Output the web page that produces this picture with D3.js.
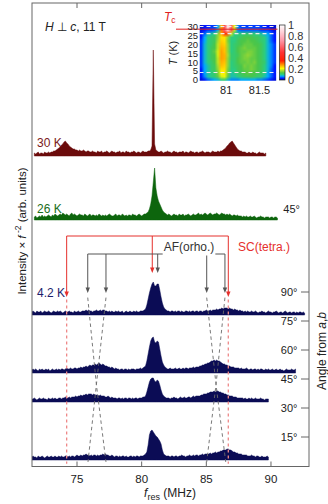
<!DOCTYPE html>
<html><head><meta charset="utf-8">
<script src="https://cdn.jsdelivr.net/npm/d3@7"></script>
<style>
html,body{margin:0;padding:0;background:#fff;}
svg{display:block;font-family:"Liberation Sans",Arial,sans-serif;}
</style></head><body>
<svg id="chart" width="328" height="504"></svg>
<script>
// ---- NMR spectra (intensity x f^-2, arb. units), sampled every 0.1 MHz ----
const freqStep = 0.1;
const start30K = 71.7;
const int30K = [3,2,3,4,2,3,3,2,4,3,3,4,3,4,
4,5,5,6,7,
8,9,11,12,14,15,
13,12,10,9,8,7,7,
6,6,5,6,5,5,6,5,4,5,5,4,
4,5,4,4,3,5,4,4,5,3,4,4,5,4,3,4,5,4,4,3,4,4,5,3,4,4,3,5,4,4,3,4,4,5,4,3,4,4,3,4,5,4,4,4,5,
5,6,10,106,12,6,5,
4,4,5,4,3,4,4,5,4,4,3,4,5,4,4,3,4,4,4,5,3,4,4,3,4,5,4,4,3,4,4,3,4,4,5,4,3,4,4,4,3,4,5,4,4,4,5,4,
5,5,6,7,8,10,11,13,14,15,13,11,9,7,6,5,5,4,4,
4,3,3,4,3,3,4,3,3,2,3,4,3,3,3,2,3];

const start26K = 71.7;
const int26K = [3,4,2,3,4,3,5,3,4,3,4,5,4,3,
5,4,6,5,4,5,6,5,7,6,5,6,5,4,6,7,5,6,5,4,5,6,5,5,4,6,5,4,5,6,4,5,5,4,5,4,6,5,4,5,
4,5,4,5,6,5,4,4,5,6,4,5,5,4,6,5,4,5,4,5,5,4,6,5,5,4,5,6,5,4,5,6,6,7,
8,11,16,24,38,52,32,24,19,16,13,10,8,7,
6,5,6,5,4,5,6,5,5,4,6,5,5,6,4,5,5,6,5,4,5,6,5,5,6,7,5,6,5,6,7,6,5,6,7,6,5,6,6,7,6,5,6,7,6,6,5,6,5,6,5,4,5,5,4,5,4,4,
4,3,4,3,4,3,3,4,3,3,4,3,2,3,3,4,3,3,2,3,3,3,2,3,3,2,3,3,2];

const start4K = 71.5;
const int4K_90 = [3,4,3,2,4,3,3,4,2,3,4,3,3,4,3,2,3,4,3,3,4,3,4,3,2,3,4,3,3,4,3,3,2,4,3,3,4,3,3,4,4,
4,5,4,5,4,4,3,4,4,5,4,4,5,4,5,5,4,4,3,4,
3,4,3,3,4,3,4,3,3,4,2,3,4,3,3,4,3,3,4,3,4,3,3,4,4,4,5,
6,10,16,22,27,31,33,29,29,31,31,25,18,12,8,6,5,
4,4,3,4,4,3,4,3,4,4,3,4,3,3,4,4,3,4,3,4,4,3,4,4,3,4,4,3,4,4,5,4,4,5,4,
5,5,5,6,5,6,6,7,6,7,7,7,6,7,6,6,5,6,5,5,4,5,
4,4,3,4,3,4,3,3,4,3,3,4,3,2,3,3,4,3,3,2,3,4,3,3,2,3,3,4,3,2,3,3,2,3,4,3,2,3,3,2,3,3,2,3,2,3,3,2,3,2];

const int4K_60 = [3,4,3,4,3,2,4,3,4,3,3,4,3,4,2,3,4,3,3,4,3,4,3,4,4,3,4,5,4,4,5,4,4,5,5,4,
5,5,6,5,6,6,7,6,7,8,7,8,8,9,8,9,10,9,8,9,8,7,7,6,6,5,6,5,4,5,
4,4,3,4,4,3,4,4,3,4,3,4,4,4,3,4,4,4,5,4,5,6,
7,12,19,26,32,35,36,31,30,32,31,24,17,11,8,6,5,
4,4,5,4,4,4,5,4,4,5,4,4,5,4,5,5,4,5,5,5,6,5,6,
6,6,7,7,8,8,9,9,10,10,11,12,12,13,12,13,12,12,11,10,9,9,8,8,7,7,6,6,6,5,5,5,5,4,5,
4,4,4,5,4,3,4,4,3,4,4,3,4,3,4,4,3,3,4,3,4,3,3,4,3,3,4,3,3,4,3,3,2,3,4,3,3,3,4,3,3,4];

const int4K_45 = [3,3,4,3,2,3,4,3,3,4,3,3,2,4,3,3,4,3,4,3,3,4,4,3,4,4,5,4,4,5,4,5,5,5,6,5,
6,6,7,6,7,7,8,7,8,8,8,7,8,7,7,7,6,7,6,6,6,5,5,6,5,4,5,4,4,
4,3,4,4,3,4,3,4,4,3,4,4,3,4,3,4,4,3,4,4,4,5,5,
6,10,15,20,23,24,24,21,20,22,21,17,12,8,6,5,4,
4,4,3,4,4,5,4,4,3,4,5,4,4,5,4,4,5,5,4,5,6,5,6,6,
6,6,7,7,8,8,8,9,9,10,10,10,11,10,11,11,10,10,9,9,8,8,7,7,6,6,6,5,5,5,4,4,4,
4,4,3,4,3,3,4,3,4,3,3,4,3,3,3,4,3,3,2,3,3,3];

const int4K_15 = [3,4,3,3,2,4,3,3,4,3,2,3,4,3,3,4,3,3,4,3,3,4,3,4,3,3,4,4,3,4,3,4,4,3,4,5,4,4,5,
4,5,5,6,5,5,4,5,4,5,5,4,5,4,5,5,6,5,6,5,5,4,4,5,
4,3,4,4,3,4,3,4,4,3,4,3,3,4,4,3,4,3,4,4,3,4,4,4,5,6,
8,15,25,29,30,28,26,24,23,21,19,16,10,6,5,4,
4,4,3,4,4,3,4,4,3,4,4,5,4,4,3,4,4,5,4,4,5,4,5,5,4,5,5,6,5,6,
6,6,6,7,6,7,7,8,7,8,8,9,9,10,10,10,11,11,10,10,9,8,8,7,7,6,6,6,5,5,5,
5,4,4,4,5,4,4,3,4,4,3,3,4,3,3,3,4,3];

// angles (deg from a,b) of the 4.2 K spectra
const angles4K = [90, 60, 45, 15];
const angleTicks = [15, 30, 45, 60, 75, 90];
const freqTicks = [75, 80, 85, 90];

// line positions (MHz): SC (tetragonal) and AF (orthorhombic) lines
const scLines = [74.2, 80.82, 86.7];
const afLines = [75.83, 77.24, 81.24, 85.03, 86.44];
// angle dependence of the split AF lines, [MHz, angle level]
const afGuides = [
  [[75.83, 99], [76.5, 54], [77.24, 14]],
  [[77.24, 99], [76.5, 54], [75.85, 14]],
  [[85.03, 99], [85.75, 54], [86.5, 14]],
  [[86.44, 99], [85.75, 54], [85.03, 14]]
];
const scGuides = [74.2, 86.7];

// ---- inset: central-line intensity map vs temperature ----
const mapFreqEdges = [80.6, 81.75];        // 23 columns, 0.05 MHz each
const mapTemps = [30,28,26,24,22,20,18,16,14,12,10,8,6,4,2,0];
const mapValues = [
 [0.02,0.03,0.03,0.04,0.04,0.07,0.25,0.55,0.95,0.60,0.20,0.06,0.04,0.04,0.04,0.04,0.04,0.04,0.04,0.03,0.03,0.02,0.02],
 [0.02,0.03,0.04,0.04,0.05,0.08,0.30,0.60,0.88,0.55,0.18,0.06,0.05,0.05,0.05,0.05,0.05,0.05,0.04,0.04,0.04,0.03,0.02],
 [0.03,0.05,0.08,0.09,0.10,0.16,0.26,0.34,0.33,0.19,0.10,0.10,0.10,0.11,0.11,0.11,0.10,0.10,0.09,0.08,0.07,0.05,0.03],
 [0.03,0.07,0.10,0.11,0.12,0.16,0.23,0.23,0.16,0.10,0.10,0.11,0.12,0.13,0.13,0.13,0.12,0.12,0.11,0.10,0.08,0.05,0.03],
 [0.04,0.07,0.10,0.11,0.12,0.17,0.24,0.23,0.15,0.10,0.10,0.12,0.13,0.13,0.14,0.13,0.13,0.12,0.11,0.10,0.08,0.05,0.03],
 [0.04,0.08,0.10,0.11,0.13,0.18,0.25,0.24,0.16,0.10,0.11,0.12,0.13,0.14,0.14,0.14,0.13,0.13,0.12,0.10,0.08,0.06,0.04],
 [0.04,0.08,0.10,0.12,0.13,0.18,0.26,0.25,0.16,0.10,0.11,0.13,0.14,0.15,0.14,0.14,0.14,0.13,0.12,0.10,0.08,0.06,0.04],
 [0.04,0.08,0.10,0.12,0.14,0.19,0.27,0.25,0.16,0.10,0.11,0.13,0.14,0.14,0.15,0.15,0.14,0.13,0.12,0.10,0.08,0.06,0.04],
 [0.04,0.08,0.10,0.12,0.13,0.19,0.27,0.26,0.17,0.11,0.11,0.12,0.14,0.15,0.16,0.15,0.14,0.13,0.12,0.10,0.08,0.06,0.04],
 [0.04,0.08,0.10,0.12,0.13,0.18,0.27,0.26,0.16,0.11,0.11,0.13,0.14,0.15,0.15,0.14,0.14,0.13,0.12,0.10,0.08,0.06,0.04],
 [0.04,0.08,0.10,0.11,0.13,0.18,0.26,0.25,0.16,0.10,0.11,0.13,0.14,0.14,0.15,0.14,0.15,0.13,0.12,0.11,0.08,0.06,0.04],
 [0.04,0.07,0.09,0.11,0.12,0.17,0.25,0.24,0.16,0.10,0.11,0.12,0.13,0.15,0.14,0.15,0.14,0.13,0.12,0.10,0.08,0.06,0.03],
 [0.03,0.07,0.09,0.11,0.12,0.16,0.23,0.23,0.15,0.10,0.10,0.12,0.13,0.14,0.14,0.15,0.14,0.13,0.12,0.10,0.08,0.05,0.03],
 [0.03,0.07,0.09,0.10,0.11,0.15,0.21,0.22,0.15,0.09,0.10,0.11,0.12,0.13,0.14,0.13,0.13,0.12,0.11,0.10,0.07,0.05,0.03],
 [0.03,0.06,0.09,0.10,0.11,0.14,0.19,0.20,0.14,0.09,0.09,0.10,0.11,0.12,0.12,0.13,0.12,0.11,0.11,0.09,0.07,0.05,0.03],
 [0.02,0.03,0.05,0.06,0.07,0.08,0.10,0.11,0.08,0.06,0.06,0.06,0.07,0.07,0.07,0.07,0.07,0.06,0.06,0.05,0.04,0.03,0.02]
];
const mapMarkTemps = [30, 26, 4.2];
const tcTemp = 28.5;
const tempTicks = [0, 5, 10, 15, 20, 25, 30];
const mapFreqTicks = [81, 81.5];
const colorTicks = [0, 0.2, 0.4, 0.6, 0.8, 1];

// ---- layout & styles ----
const frame = {left: 32, right: 309, top: 3, bottom: 466.5};
const baseOffset4K = 23;           // px between angle tick and spectrum baseline
const base30K = 156, base26K = 220;
const inset = {left: 199.5, right: 277.5, top: 25, bottom: 80.7, cbLeft: 279.5, cbRight: 285};
const colRed = '#6b0b0b', colGreen = '#0d650d', colNavy = '#0b0c55';
const annRed = '#e5302c', annGray = '#555';
const colorStops = [0, 0.03, 0.07, 0.10, 0.13, 0.17, 0.21, 0.27, 0.35, 0.5, 0.72, 1];
const colorRange = ['#000088','#0018ff','#00aaff','#2ccc80','#4ac64a','#a8dc30','#ffff00','#ffa000','#ff2000','#ff3333','#ff98a8','#ffffff'];

const svg = d3.select('#chart');
const defs = svg.append('defs');

const x = d3.scaleLinear().domain([71.52, 92.94]).range([frame.left, frame.right]);
const yAngle = d3.scaleLinear().domain([0, 90]).range([466, 292]);
const baseOf = a => yAngle(a) + baseOffset4K;

defs.append('clipPath').attr('id', 'plotClip').append('rect')
  .attr('x', frame.left).attr('y', frame.top)
  .attr('width', frame.right - frame.left).attr('height', frame.bottom - frame.top);

const plot = svg.append('g').attr('clip-path', 'url(#plotClip)');

const spectra = [
  {start: start30K, values: int30K, color: colRed, base: base30K},
  {start: start26K, values: int26K, color: colGreen, base: base26K},
  {start: start4K, values: int4K_90, color: colNavy, base: baseOf(angles4K[0])},
  {start: start4K, values: int4K_60, color: colNavy, base: baseOf(angles4K[1])},
  {start: start4K, values: int4K_45, color: colNavy, base: baseOf(angles4K[2])},
  {start: start4K, values: int4K_15, color: colNavy, base: baseOf(angles4K[3])}
];

spectra.forEach(s => {
  const pts = s.values.map((v, i) => ({f: s.start + i * freqStep, v}));
  const yv = d3.scaleLinear().domain([0, 100]).range([s.base, s.base - 100]);
  plot.append('path').datum(pts)
    .attr('d', d3.area().x(d => x(d.f)).y0(s.base).y1(d => yv(d.v)))
    .attr('fill', s.color).attr('stroke', s.color).attr('stroke-width', 0.5)
    .attr('stroke-linejoin', 'round');
});

// ---- line assignments ----
const ann = svg.append('g');
const arrowHead = (g, xp, tip, color) => g.append('path')
  .attr('d', `M${xp - 2.2},${tip - 5.5}L${xp + 2.2},${tip - 5.5}L${xp},${tip}Z`).attr('fill', color);

// dashed guides
const guideLine = d3.line().x(d => x(d[0])).y(d => baseOf(d[1]));
afGuides.forEach(g => ann.append('path').datum(g).attr('d', guideLine)
  .attr('fill', 'none').attr('stroke', '#6a6a6a').attr('stroke-width', 0.9).attr('stroke-dasharray', '3.5,3'));
scGuides.forEach(f => ann.append('line')
  .attr('x1', x(f)).attr('x2', x(f)).attr('y1', baseOf(98)).attr('y2', baseOf(13))
  .attr('stroke', '#ee8888').attr('stroke-width', 1.3).attr('stroke-dasharray', '3,3'));

// SC bracket
const scY = 236, afY = 254;
ann.append('line').attr('x1', x(scLines[0])).attr('x2', x(scLines[2])).attr('y1', scY).attr('y2', scY)
  .attr('stroke', annRed).attr('stroke-width', 1);
scLines.forEach((f, i) => {
  const tip = i === 1 ? 273 : 297;
  ann.append('line').attr('x1', x(f)).attr('x2', x(f)).attr('y1', scY).attr('y2', tip - 4)
    .attr('stroke', annRed).attr('stroke-width', 1);
  arrowHead(ann, x(f), tip, annRed);
});
// AF bracket
ann.append('line').attr('x1', x(afLines[0])).attr('x2', x(afLines[4])).attr('y1', afY).attr('y2', afY)
  .attr('stroke', annGray).attr('stroke-width', 1);
afLines.forEach((f, i) => {
  const tip = i === 2 ? 273 : 293;
  ann.append('line').attr('x1', x(f)).attr('x2', x(f)).attr('y1', afY).attr('y2', tip - 4)
    .attr('stroke', annGray).attr('stroke-width', 1);
  arrowHead(ann, x(f), tip, annGray);
});
const afText = ann.append('text').attr('x', 189).attr('y', 251).attr('text-anchor', 'middle')
  .attr('font-size', 12).attr('fill', '#333').text('AF(orho.)');
const bb = afText.node().getBBox();
ann.insert('rect', 'text').attr('x', bb.x - 1).attr('y', bb.y).attr('width', bb.width + 2).attr('height', bb.height + 1.5).attr('fill', '#fff');
ann.append('text').attr('x', 238).attr('y', 251).attr('font-size', 12).attr('fill', annRed).text('SC(tetra.)');

// ---- frame and axes ----
const axisCol = '#666';
svg.append('rect').attr('x', frame.left).attr('y', frame.top)
  .attr('width', frame.right - frame.left).attr('height', frame.bottom - frame.top)
  .attr('fill', 'none').attr('stroke', axisCol).attr('stroke-width', 1);

freqTicks.forEach(t => {
  svg.append('line').attr('x1', x(t)).attr('x2', x(t)).attr('y1', frame.top).attr('y2', frame.top + 5).attr('stroke', axisCol);
  svg.append('line').attr('x1', x(t)).attr('x2', x(t)).attr('y1', frame.bottom).attr('y2', frame.bottom - 5).attr('stroke', axisCol);
  svg.append('text').attr('x', x(t)).attr('y', 483).attr('text-anchor', 'middle')
    .attr('font-size', 11.5).attr('fill', '#222').text(t);
});

angleTicks.forEach(a => {
  svg.append('line').attr('x1', frame.right - 8).attr('x2', frame.right).attr('y1', yAngle(a)).attr('y2', yAngle(a)).attr('stroke', axisCol);
  svg.append('text').attr('x', 297.5).attr('y', yAngle(a) + 4).attr('text-anchor', 'end')
    .attr('font-size', 11).attr('fill', '#222').text(a + '°');
});

// axis titles
const xt = svg.append('text').attr('x', 170).attr('y', 497).attr('text-anchor', 'middle').attr('font-size', 12).attr('fill', '#222');
xt.append('tspan').attr('font-style', 'italic').text('f');
xt.append('tspan').attr('font-size', 9).attr('dy', 3).text('res');
xt.append('tspan').attr('dy', -3).text(' (MHz)');

const yt = svg.append('text').attr('transform', 'translate(25.5,231) rotate(-90)').attr('text-anchor', 'middle').attr('font-size', 11.5).attr('fill', '#222');
yt.append('tspan').text('Intensity × ');
yt.append('tspan').attr('font-style', 'italic').text('f');
yt.append('tspan').attr('font-size', 8.5).attr('dy', -4.5).text(' -2');
yt.append('tspan').attr('dy', 4.5).text(' (arb. units)');

const rt = svg.append('text').attr('transform', 'translate(326,351) rotate(-90)').attr('text-anchor', 'middle').attr('font-size', 12).attr('fill', '#222');
rt.append('tspan').text('Angle from ');
rt.append('tspan').attr('font-style', 'italic').text('a');
rt.append('tspan').text(',');
rt.append('tspan').attr('font-style', 'italic').text('b');

// labels
const ht = svg.append('text').attr('x', 45).attr('y', 30.5).attr('font-size', 12).attr('fill', '#222');
ht.append('tspan').attr('font-style', 'italic').text('H');
ht.append('tspan').text(' ⊥ ');
ht.append('tspan').attr('font-style', 'italic').text('c');
ht.append('tspan').text(', 11 T');

svg.append('text').attr('x', 37).attr('y', 147).attr('font-size', 12).attr('fill', '#7a1a1a').text('30 K');
svg.append('text').attr('x', 37).attr('y', 213).attr('font-size', 12).attr('fill', '#1a6e1a').text('26 K');
svg.append('text').attr('x', 37).attr('y', 297).attr('font-size', 12).attr('fill', '#1c1d6c').text('4.2 K');
svg.append('text').attr('x', 300).attr('y', 213).attr('text-anchor', 'end').attr('font-size', 11).attr('fill', '#222').text('45°');

// ---- inset ----
const xi = d3.scaleLinear().domain([80.6, 81.77]).range([inset.left, inset.right]);
const yT = d3.scaleLinear().domain([0, 30]).range([80, 26.5]);
const color = d3.scaleLinear().domain(colorStops).range(colorRange).clamp(true);

const nCols = mapValues[0].length, nRows = mapValues.length;
const cv = document.createElement('canvas');
cv.width = nCols; cv.height = nRows;
const ctx = cv.getContext('2d');
mapValues.forEach((row, r) => row.forEach((v, c) => {
  ctx.fillStyle = color(v);
  ctx.fillRect(c, r, 1, 1);
}));
defs.append('clipPath').attr('id', 'mapClip').append('rect')
  .attr('x', inset.left).attr('y', inset.top).attr('width', inset.right - inset.left).attr('height', inset.bottom - inset.top);
const tHalf = (mapTemps[0] - mapTemps[1]) / 2;
svg.append('g').attr('clip-path', 'url(#mapClip)').append('image')
  .attr('href', cv.toDataURL())
  .attr('x', xi(mapFreqEdges[0])).attr('width', xi(mapFreqEdges[1]) - xi(mapFreqEdges[0]))
  .attr('y', yT(mapTemps[0] + tHalf)).attr('height', yT(mapTemps[nRows - 1] - tHalf) - yT(mapTemps[0] + tHalf))
  .attr('preserveAspectRatio', 'none');

mapMarkTemps.forEach(t => svg.append('line')
  .attr('x1', inset.left).attr('x2', inset.right).attr('y1', yT(t)).attr('y2', yT(t))
  .attr('stroke', '#eeeeee').attr('stroke-width', 1.2).attr('stroke-dasharray', '4,3'));

svg.append('line').attr('x1', 176).attr('x2', inset.right).attr('y1', yT(tcTemp)).attr('y2', yT(tcTemp))
  .attr('stroke', '#e02020').attr('stroke-width', 1);
const tc = svg.append('text').attr('x', 164).attr('y', 20.5).attr('font-size', 12).attr('fill', '#e02020');
tc.append('tspan').attr('font-style', 'italic').text('T');
tc.append('tspan').attr('font-size', 8.5).attr('dy', 2.5).text('c');

tempTicks.forEach(t => svg.append('text').attr('x', 198).attr('y', yT(t) + 3.4).attr('text-anchor', 'end')
  .attr('font-size', 9.5).attr('fill', '#222').text(t));
mapFreqTicks.forEach(f => svg.append('text').attr('x', xi(f)).attr('y', 94).attr('text-anchor', 'middle')
  .attr('font-size', 11).attr('fill', '#222').text(f));
const tl = svg.append('text').attr('transform', 'translate(176.5,53) rotate(-90)').attr('text-anchor', 'middle')
  .attr('font-size', 11).attr('fill', '#222');
tl.append('tspan').attr('font-style', 'italic').text('T');
tl.append('tspan').text(' (K)');

// colour bar
const cb = d3.scaleLinear().domain([0, 1]).range([inset.bottom - 0.7, inset.top]);
const grad = defs.append('linearGradient').attr('id', 'cbGrad').attr('x1', 0).attr('x2', 0).attr('y1', 1).attr('y2', 0);
d3.range(0, 1.0001, 0.01).forEach(v => grad.append('stop').attr('offset', v).attr('stop-color', color(v)));
svg.append('rect').attr('x', inset.cbLeft).attr('y', inset.top).attr('width', inset.cbRight - inset.cbLeft)
  .attr('height', cb(0) - inset.top).attr('fill', 'url(#cbGrad)').attr('stroke', '#222').attr('stroke-width', 0.7);
colorTicks.forEach(v => svg.append('text').attr('x', 288).attr('y', cb(v) + 4).attr('font-size', 11)
  .attr('fill', '#333').text(v));
</script>
</body></html>
